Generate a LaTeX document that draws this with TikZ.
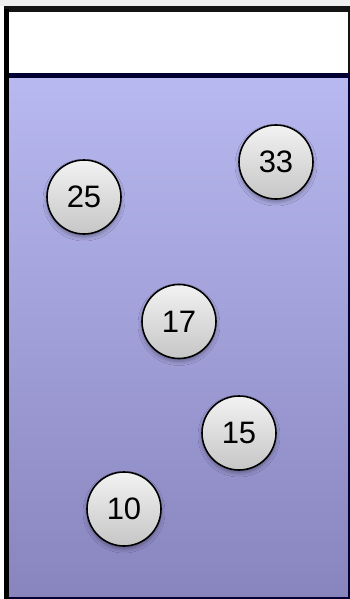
\documentclass[tikz,border=0pt]{standalone}
\usepackage{fontspec}
\setmainfont{Liberation Sans}
\usetikzlibrary{shadows.blur}
\definecolor{bluetop}{RGB}{184,185,240}
\definecolor{bluebot}{RGB}{136,132,190}
\definecolor{balltop}{RGB}{242,242,242}
\definecolor{ballbot}{RGB}{198,198,198}
\tikzset{
  ball/.style={circle, draw=black, line width=1.6pt, minimum size=74pt, inner sep=0pt,
    top color=balltop, bottom color=ballbot, font=\fontsize{31}{31}\selectfont,
    blur shadow={shadow xshift=0pt, shadow yshift=-3pt, shadow blur radius=4pt, shadow opacity=35}},
  frame/.style={draw=black!92, line width=5.5pt}
}
\begin{document}
\begin{tikzpicture}[x=1pt,y=-1pt]
\useasboundingbox (0,0) rectangle (350,599);
\fill[black!6] (0,0) rectangle (350,6);
\shade[top color=bluetop, bottom color=bluebot] (6.5,75.5) rectangle (350.5,599.5);
\fill[white] (6.5,9) rectangle (350.5,75.5);
\draw[frame] (6.5,9) rectangle (350.5,75.5);
\draw[frame, draw=black!80!blue] (6.5,75.5) rectangle (350.5,599.5);
\draw[frame, draw=black] (6.5,9) -- (6.5,599.5);
\node[ball] (n25) at (84,197) {25};
\node[ball] (n33) at (276,162) {33};
\node[ball] (n17) at (179,321.5) {17};
\node[ball] (n15) at (239,433) {15};
\node[ball] (n10) at (124,509) {10};
\end{tikzpicture}
\end{document}
